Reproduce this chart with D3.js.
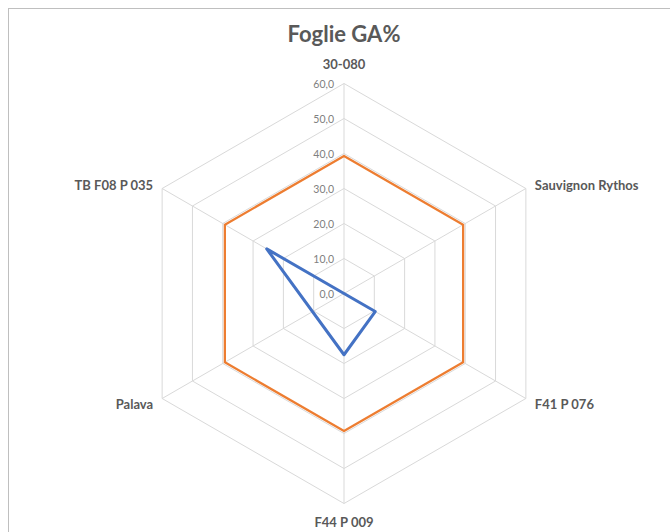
<!DOCTYPE html>
<html>
<head>
<meta charset="utf-8">
<script src="https://cdn.jsdelivr.net/npm/d3@7/dist/d3.min.js"></script>
<style>
  html, body { margin: 0; padding: 0; background: #fff; }
  svg { display: block; }
</style>
</head>
<body>
<svg id="chart" width="670" height="532"></svg>
<script>
const categories = ["30-080", "Sauvignon Rythos", "F41 P 076", "F44 P 009", "Palava", "TB F08 P 035"];
const seriesBlue = [0, 0, 10.3, 17.5, null, 25.5];
const seriesOrange = [39.3, 39.3, 39.3, 39.3, 39.3, 39.3];
const tickValues = [0, 10, 20, 30, 40, 50, 60];
const titleText = "Foglie GA%";

const svg = d3.select("#chart");
const cx = 344, cy = 293.5, R = 210;
const r = d3.scaleLinear().domain([0, 60]).range([0, R]);
const angle = d3.scaleLinear().domain([0, categories.length]).range([0, 2 * Math.PI]);
const pt = (i, v) => [cx + r(v) * Math.sin(angle(i)), cy - r(v) * Math.cos(angle(i))];

// border
svg.append("rect").attr("x", 8.5).attr("y", 8.5).attr("width", 680).attr("height", 540)
  .attr("fill", "#fff").attr("stroke", "#bfbfbf").attr("stroke-width", 1);

// title
svg.append("text").attr("x", cx).attr("y", 33).attr("text-anchor", "middle")
  .attr("dominant-baseline", "central")
  .attr("font-family", "Lato, 'Open Sans', sans-serif").attr("font-weight", "bold")
  .attr("font-size", 22).attr("fill", "#595959").text(titleText);

// grid rings
const ringLine = d3.line().curve(d3.curveLinearClosed);
svg.append("g").selectAll("path").data(tickValues.filter(t => t > 0)).join("path")
  .attr("d", t => ringLine(categories.map((c, i) => pt(i, t))))
  .attr("fill", "none").attr("stroke", "#d9d9d9").attr("stroke-width", 1);

// spokes
svg.append("g").selectAll("line").data(categories).join("line")
  .attr("x1", cx).attr("y1", cy)
  .attr("x2", (d, i) => pt(i, 60)[0]).attr("y2", (d, i) => pt(i, 60)[1])
  .attr("stroke", "#d9d9d9").attr("stroke-width", 1);

// tick labels
const loc = d3.formatLocale({decimal: ",", thousands: ".", grouping: [3], currency: ["", "€"]});
const fmt = loc.format(".1f");
svg.append("g").selectAll("text").data(tickValues).join("text")
  .attr("x", cx - 10).attr("y", t => cy - r(t))
  .attr("text-anchor", "end").attr("dominant-baseline", "central")
  .attr("font-family", "Lato, 'Open Sans', sans-serif").attr("font-size", 10.5)
  .attr("fill", "#808080").text(t => fmt(t));

// series (missing values are skipped, line connects neighbours)
const seriesLine = d3.line().curve(d3.curveLinearClosed);
const toPoints = vals => vals.map((v, i) => v == null ? null : pt(i, v)).filter(p => p);
svg.append("path").attr("d", seriesLine(toPoints(seriesOrange)))
  .attr("fill", "none").attr("stroke", "#ED7D31").attr("stroke-width", 2.25)
  .attr("stroke-linejoin", "round");
svg.append("path").attr("d", seriesLine(toPoints(seriesBlue)))
  .attr("fill", "none").attr("stroke", "#4472C4").attr("stroke-width", 3)
  .attr("stroke-linejoin", "round");

// category labels
const labelOffsets = [[0, -20], [9, -4], [9, 5.5], [0, 18.5], [-9, 5.5], [-9, -4]];
svg.append("g").selectAll("text").data(categories).join("text")
  .attr("x", (d, i) => pt(i, 60)[0] + labelOffsets[i][0])
  .attr("y", (d, i) => pt(i, 60)[1] + labelOffsets[i][1])
  .attr("text-anchor", (d, i) => {
    const s = Math.sin(angle(i));
    return Math.abs(s) < 0.01 ? "middle" : (s > 0 ? "start" : "end");
  })
  .attr("dominant-baseline", "central")
  .attr("font-family", "Lato, 'Open Sans', sans-serif").attr("font-weight", "bold")
  .attr("font-size", 13).attr("fill", "#595959").text(d => d);
</script>
</body>
</html>
